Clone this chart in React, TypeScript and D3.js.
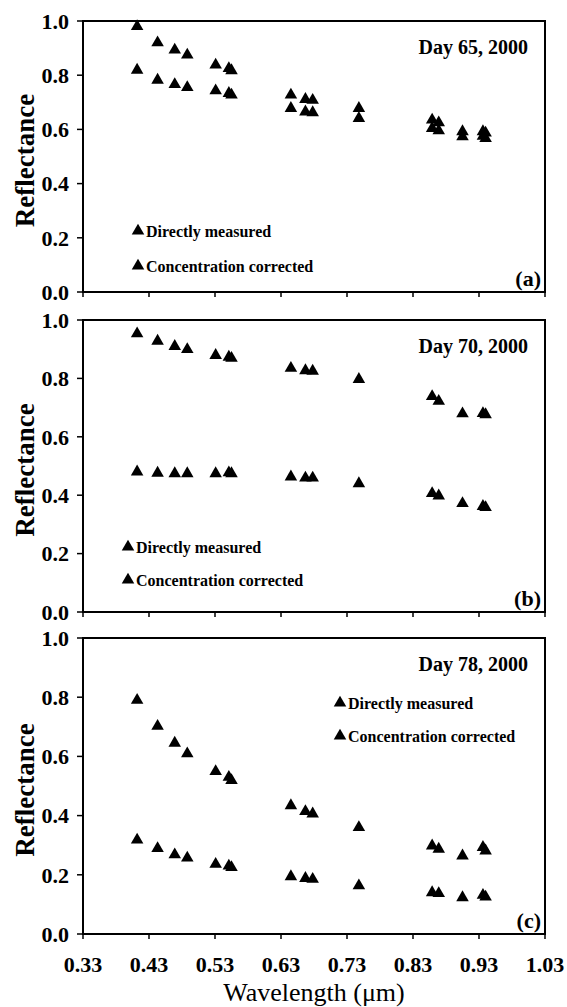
import React from "react";
import * as d3 from "d3";

const wavelengths = [0.412, 0.443, 0.469, 0.488, 0.531, 0.551, 0.555, 0.645, 0.667, 0.678, 0.748, 0.859, 0.869, 0.905, 0.936, 0.94];

const day65Corrected = [0.98, 0.92, 0.893, 0.875, 0.838, 0.825, 0.817, 0.727, 0.711, 0.708, 0.678, 0.635, 0.625, 0.592, 0.592, 0.587];
const day65Measured = [0.819, 0.782, 0.766, 0.755, 0.743, 0.733, 0.727, 0.678, 0.665, 0.662, 0.641, 0.604, 0.595, 0.573, 0.575, 0.567];

const day70Corrected = [0.953, 0.928, 0.91, 0.899, 0.879, 0.873, 0.869, 0.835, 0.827, 0.825, 0.797, 0.738, 0.722, 0.679, 0.68, 0.676];
const day70Measured = [0.48, 0.476, 0.474, 0.474, 0.474, 0.477, 0.474, 0.463, 0.459, 0.459, 0.44, 0.406, 0.398, 0.372, 0.362, 0.358];

const day78Corrected = [0.79, 0.702, 0.645, 0.609, 0.549, 0.53, 0.519, 0.434, 0.414, 0.406, 0.36, 0.298, 0.287, 0.264, 0.293, 0.281];
const day78Measured = [0.318, 0.289, 0.268, 0.257, 0.236, 0.23, 0.225, 0.194, 0.188, 0.185, 0.163, 0.14, 0.137, 0.123, 0.131, 0.125];

const xTicks = [0.33, 0.43, 0.53, 0.63, 0.73, 0.83, 0.93, 1.03];
const yTicks = [0, 0.2, 0.4, 0.6, 0.8, 1.0];
const legendLabels = ["Directly measured", "Concentration corrected"];

const panels = [
  { title: "Day 65, 2000", letter: "(a)", top: 21, bottom: 292, measured: day65Measured, corrected: day65Corrected, legend: { x: 138, y1: 231, y2: 266 } },
  { title: "Day 70, 2000", letter: "(b)", top: 320, bottom: 612, measured: day70Measured, corrected: day70Corrected, legend: { x: 128, y1: 547, y2: 580 } },
  { title: "Day 78, 2000", letter: "(c)", top: 638, bottom: 934, measured: day78Measured, corrected: day78Corrected, legend: { x: 340, y1: 703, y2: 736 } },
];

const FONT = "Liberation Serif, Times New Roman, serif";
const LEFT = 83;
const RIGHT = 545;

export default function App() {
  const x = d3.scaleLinear().domain([0.33, 1.03]).range([LEFT, RIGHT]);
  const tri = d3.symbol().type(d3.symbolTriangle).size(68)();

  return (
    <svg
      width={567}
      height={1007}
      style={{ position: "fixed", left: 0, top: 0, background: "#fff", fontFamily: FONT }}
    >
      <rect x={0} y={0} width={567} height={1007} fill="#fff" />
      {panels.map((p, pi) => {
        const y = d3.scaleLinear().domain([0, 1]).range([p.bottom, p.top]);
        const isLast = pi === panels.length - 1;
        return (
          <g key={pi}>
            <rect x={LEFT} y={p.top} width={RIGHT - LEFT} height={p.bottom - p.top} fill="none" stroke="#000" strokeWidth={2} />
            {yTicks.map((t) => (
              <g key={t}>
                <line x1={LEFT - 6} x2={LEFT} y1={y(t)} y2={y(t)} stroke="#000" strokeWidth={1.5} />
                <text x={69} y={y(t)} dy="0.35em" textAnchor="end" fontSize={22} fontWeight="bold">
                  {d3.format(".1f")(t)}
                </text>
              </g>
            ))}
            {xTicks.map((t) => (
              <g key={t}>
                <line x1={x(t)} x2={x(t)} y1={p.bottom} y2={p.bottom + 5} stroke="#000" strokeWidth={1.5} />
                {isLast && (
                  <text x={x(t)} y={972} textAnchor="middle" fontSize={22} fontWeight="bold">
                    {d3.format(".2f")(t)}
                  </text>
                )}
              </g>
            ))}
            <text
              transform={`translate(34, ${(p.top + p.bottom) / 2 + 4}) rotate(-90)`}
              textAnchor="middle"
              fontSize={27}
              fontWeight="bold"
            >
              Reflectance
            </text>
            <text x={528} y={p.top + 33} textAnchor="end" fontSize={20} fontWeight="bold">
              {p.title}
            </text>
            <text x={541} y={p.bottom - 6} textAnchor="end" fontSize={22} fontWeight="bold">
              {p.letter}
            </text>
            {p.measured.map((v, i) => (
              <path key={"m" + i} d={tri} transform={`translate(${x(wavelengths[i])}, ${y(v)})`} fill="#000" />
            ))}
            {p.corrected.map((v, i) => (
              <path key={"c" + i} d={tri} transform={`translate(${x(wavelengths[i])}, ${y(v)})`} fill="#000" />
            ))}
            {[p.legend.y1, p.legend.y2].map((ly, li) => (
              <g key={li}>
                <path d={tri} transform={`translate(${p.legend.x}, ${ly})`} fill="#000" />
                <text x={p.legend.x + 8} y={ly} dy="0.35em" fontSize={16} fontWeight="bold">
                  {legendLabels[li]}
                </text>
              </g>
            ))}
          </g>
        );
      })}
      <text x={(LEFT + RIGHT) / 2} y={1001} textAnchor="middle" fontSize={26}>
        Wavelength (μm)
      </text>
    </svg>
  );
}
